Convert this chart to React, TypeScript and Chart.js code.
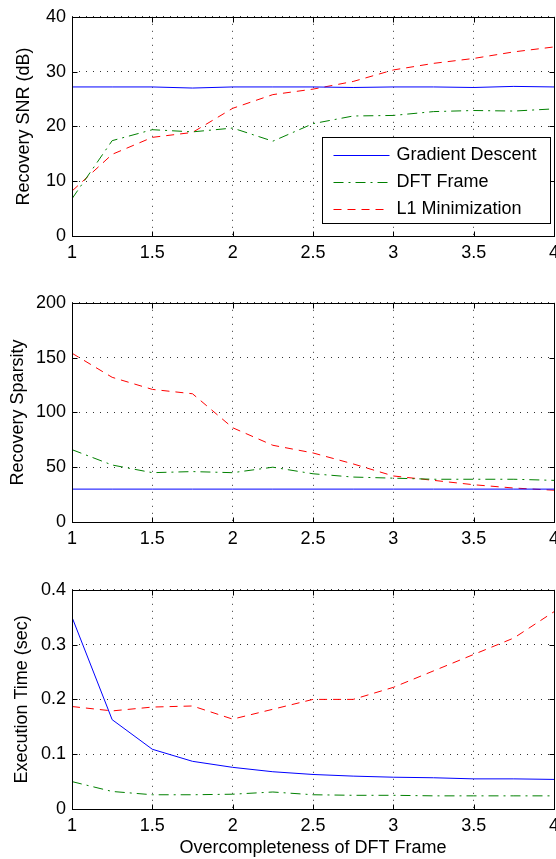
import React, { useEffect, useRef } from "react";
import { Chart, registerables } from "chart.js";

Chart.register(...registerables);

// ---------------- data ----------------
const xValues = [1, 1.25, 1.5, 1.75, 2, 2.25, 2.5, 2.75, 3, 3.25, 3.5, 3.75, 4];
const seriesNames = ["Gradient Descent", "DFT Frame", "L1 Minimization"];

const snrGradient = [27.2, 27.2, 27.2, 27.0, 27.2, 27.2, 27.2, 27.1, 27.2, 27.2, 27.1, 27.3, 27.2];
const snrDft = [6.8, 17.4, 19.4, 19.0, 19.7, 17.3, 20.5, 21.9, 22.0, 22.7, 22.9, 22.8, 23.2];
const snrL1 = [8.2, 14.9, 18.0, 18.9, 23.3, 25.8, 26.8, 28.2, 30.3, 31.5, 32.4, 33.6, 34.5];

const sparsityGradient = [30, 30, 30, 30, 30, 30, 30, 30, 30, 30, 30, 30, 30];
const sparsityDft = [66, 52, 45, 46, 45, 50, 44, 41, 40, 39, 39, 39, 38];
const sparsityL1 = [154, 132, 121, 117, 86, 70, 63, 53, 42, 38, 34, 31, 29];

const timeGradient = [0.35, 0.163, 0.109, 0.087, 0.076, 0.068, 0.063, 0.06, 0.058, 0.057, 0.055, 0.055, 0.054];
const timeDft = [0.05, 0.032, 0.026, 0.026, 0.027, 0.031, 0.026, 0.025, 0.025, 0.024, 0.024, 0.024, 0.024];
const timeL1 = [0.187, 0.179, 0.186, 0.188, 0.164, 0.182, 0.2, 0.2, 0.222, 0.252, 0.282, 0.312, 0.36];

const xTicks = [1, 1.5, 2, 2.5, 3, 3.5, 4];
const snrTicks = [0, 10, 20, 30, 40];
const sparsityTicks = [0, 50, 100, 150, 200];
const timeTicks = [0, 0.1, 0.2, 0.3, 0.4];

const snrTitle = "Recovery SNR (dB)";
const sparsityTitle = "Recovery Sparsity";
const timeTitle = "Execution Time (sec)";
const xTitle = "Overcompleteness of DFT Frame";

// ---------------- styles ----------------
const FONT = '"Liberation Sans", Arial, Helvetica, sans-serif';
const lineStyles = [
  { color: "#0000ff", dash: [] as number[] },
  { color: "#008000", dash: [10, 5, 2, 5] },
  { color: "#ff0000", dash: [8, 6] },
];

const CANVAS_W = 580;
const CANVAS_H = 286;

const toPoints = (ys: number[]) => xValues.map((x, i) => ({ x, y: ys[i] }));

const framePlugin = {
  id: "matlabFrame",
  afterDatasetsDraw(chart: any) {
    const { ctx, chartArea: a, scales } = chart;
    const L = Math.round(a.left) + 0.5;
    const R = Math.round(a.right) + 0.5;
    const T = Math.round(a.top) + 0.5;
    const B = Math.round(a.bottom) + 0.5;
    const tl = 5;
    ctx.save();
    ctx.strokeStyle = "#000";
    ctx.lineWidth = 1;
    ctx.setLineDash([]);
    ctx.beginPath();
    scales.x.ticks.forEach((t: any) => {
      const px = Math.round(scales.x.getPixelForValue(t.value)) + 0.5;
      ctx.moveTo(px, B);
      ctx.lineTo(px, B - tl);
      ctx.moveTo(px, T);
      ctx.lineTo(px, T + tl);
    });
    scales.y.ticks.forEach((t: any) => {
      const py = Math.round(scales.y.getPixelForValue(t.value)) + 0.5;
      ctx.moveTo(L, py);
      ctx.lineTo(L + tl, py);
      ctx.moveTo(R, py);
      ctx.lineTo(R - tl, py);
    });
    ctx.stroke();
    ctx.strokeRect(L, T, R - L, B - T);
    ctx.restore();
  },
};

const legendPlugin = {
  id: "matlabLegend",
  afterDraw(chart: any) {
    const opts = chart.options.plugins.matlabLegend;
    if (!opts || !opts.show) return;
    const { ctx, chartArea: a } = chart;
    const w = 228;
    const h = 86;
    const left = Math.round(a.right - 4 - w) + 0.5;
    const top = Math.round(a.bottom - 13 - h) + 0.5;
    ctx.save();
    ctx.fillStyle = "#fff";
    ctx.fillRect(left, top, w, h);
    ctx.strokeStyle = "#000";
    ctx.lineWidth = 1;
    ctx.setLineDash([]);
    ctx.strokeRect(left, top, w, h);
    ctx.font = `18px ${FONT}`;
    ctx.textBaseline = "middle";
    ctx.textAlign = "left";
    chart.data.datasets.forEach((ds: any, i: number) => {
      const y = Math.round(top + 17 + i * 27) + 0.5;
      ctx.strokeStyle = ds.borderColor;
      ctx.lineWidth = 1;
      ctx.setLineDash(ds.borderDash || []);
      ctx.beginPath();
      ctx.moveTo(left + 11, y);
      ctx.lineTo(left + 67, y);
      ctx.stroke();
      ctx.fillStyle = "#000";
      ctx.fillText(ds.label, left + 74, y);
    });
    ctx.restore();
  },
};

function makeConfig(
  series: number[][],
  yTicks: number[],
  yTitle: string,
  yTitlePad: number,
  showXTitle: boolean,
  showLegend: boolean
): any {
  return {
    type: "line",
    data: {
      datasets: series.map((ys, i) => ({
        label: seriesNames[i],
        data: toPoints(ys),
        borderColor: lineStyles[i].color,
        backgroundColor: lineStyles[i].color,
        borderDash: lineStyles[i].dash,
        borderWidth: 1,
        pointRadius: 0,
        tension: 0,
        fill: false,
      })),
    },
    options: {
      responsive: false,
      animation: false,
      devicePixelRatio: 1,
      layout: { padding: { top: 13, right: CANVAS_W - 554, bottom: 0, left: 0 } },
      plugins: {
        legend: { display: false },
        tooltip: { enabled: false },
        matlabLegend: { show: showLegend },
      },
      scales: {
        x: {
          type: "linear",
          min: xTicks[0],
          max: xTicks[xTicks.length - 1],
          afterBuildTicks: (s: any) => {
            s.ticks = xTicks.map((v) => ({ value: v }));
          },
          afterFit: (s: any) => {
            s.height = 50;
          },
          ticks: {
            color: "#000",
            font: { family: FONT, size: 18 },
            padding: 6,
            maxRotation: 0,
            autoSkip: false,
            callback: (v: any) => String(v),
          },
          grid: { color: "rgba(0,0,0,0.8)", lineWidth: 1, drawTicks: false },
          border: { display: false, dash: [1, 6] },
          title: {
            display: showXTitle,
            text: xTitle,
            color: "#000",
            font: { family: FONT, size: 18 },
            padding: { top: 0, bottom: 0 },
          },
        },
        y: {
          type: "linear",
          min: yTicks[0],
          max: yTicks[yTicks.length - 1],
          afterBuildTicks: (s: any) => {
            s.ticks = yTicks.map((v) => ({ value: v }));
          },
          afterFit: (s: any) => {
            s.width = 72;
          },
          ticks: {
            color: "#000",
            font: { family: FONT, size: 18 },
            padding: 6,
            autoSkip: false,
            callback: (v: any) => String(v),
          },
          grid: { color: "rgba(0,0,0,0.8)", lineWidth: 1, drawTicks: false },
          border: { display: false, dash: [1, 6] },
          title: {
            display: true,
            text: yTitle,
            color: "#000",
            font: { family: FONT, size: 18 },
            padding: { top: yTitlePad, bottom: 0 },
          },
        },
      },
    },
    plugins: [framePlugin, legendPlugin],
  };
}

export default function App() {
  const r1 = useRef<HTMLCanvasElement>(null);
  const r2 = useRef<HTMLCanvasElement>(null);
  const r3 = useRef<HTMLCanvasElement>(null);

  useEffect(() => {
    const charts = [
      new Chart(r1.current!, makeConfig([snrGradient, snrDft, snrL1], snrTicks, snrTitle, 13, false, true)),
      new Chart(r2.current!, makeConfig([sparsityGradient, sparsityDft, sparsityL1], sparsityTicks, sparsityTitle, 7, false, false)),
      new Chart(r3.current!, makeConfig([timeGradient, timeDft, timeL1], timeTicks, timeTitle, 11, true, false)),
    ];
    return () => charts.forEach((c) => c.destroy());
  }, []);

  const canvasStyle = (top: number): React.CSSProperties => ({
    position: "absolute",
    left: 0,
    top,
    width: CANVAS_W,
    height: CANVAS_H,
  });

  return (
    <div
      style={{
        position: "fixed",
        left: 0,
        top: 0,
        width: 556,
        height: 859,
        overflow: "hidden",
        background: "#fff",
      }}
    >
      <canvas ref={r1} width={CANVAS_W} height={CANVAS_H} style={canvasStyle(0)} />
      <canvas ref={r2} width={CANVAS_W} height={CANVAS_H} style={canvasStyle(286)} />
      <canvas ref={r3} width={CANVAS_W} height={CANVAS_H} style={canvasStyle(573)} />
    </div>
  );
}
